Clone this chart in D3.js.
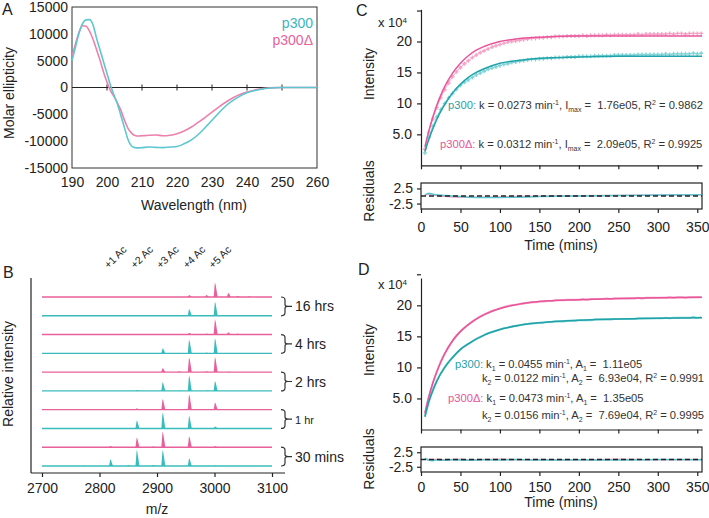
<!DOCTYPE html>
<html>
<head>
<meta charset="utf-8">
<script src="https://cdn.jsdelivr.net/npm/d3@7"></script>
<style>
body { margin: 0; background: #fff; }
svg text { font-family: "Liberation Sans", Arial, sans-serif; fill: #222; }
.axis path, .axis line { stroke: #222; stroke-width: 1.2; }
</style>
</head>
<body>
<script>
// ---- panel A : CD spectra
const cdWl = [190,191,192,193,194,195,196,197,198,199,200,201,202,203,204,205,206,207,208,209,210,212,214,216,218,220,222,224,226,228,230,232,234,236,238,240,242,244,246,248,250,255,260];
const cdP300 = [5000,7600,10100,11900,12600,12650,11700,9200,7000,4800,2600,400,-1400,-3100,-5300,-7500,-9700,-10900,-11200,-11250,-11200,-11100,-11150,-11200,-11100,-11000,-10500,-9800,-8800,-7500,-6100,-4700,-3400,-2400,-1600,-1000,-600,-320,-150,-50,0,0,0];
const cdP300d = [5800,8100,10300,11500,11400,10500,9000,7100,5100,2900,1000,-600,-1700,-2900,-4300,-6100,-7600,-8500,-8950,-9050,-9000,-8900,-8850,-9000,-8900,-8600,-8100,-7400,-6500,-5600,-4600,-3600,-2700,-1900,-1300,-850,-500,-250,-100,-30,0,0,0];
const cdYTicks = [15000,10000,5000,0,-5000,-10000,-15000];

// ---- panel B : mass spectra (relative peak heights, top trace first)
const msMz = [2773,2819,2850,2865,2893,2910,2938,2956,2986,3001,3024,3040,3060];
const msTraces = [
  [0,0,0,0,0,0,0,0.12,0.12,0.9,0.25,0.07,0.04],
  [0,0,0,0,0,0.05,0,0.42,0.03,0.88,0,0,0],
  [0,0,0,0,0,0.03,0,0.12,0.06,0.95,0.14,0.06,0.03],
  [0,0,0,0,0,0.32,0.03,0.86,0.05,0.94,0,0,0],
  [0,0,0,0,0,0.25,0.05,0.92,0.05,0.94,0.02,0,0],
  [0,0,0,0.05,0,0.55,0.03,0.96,0.03,0.62,0,0,0],
  [0,0,0,0.09,0.03,0.67,0.03,0.96,0,0.45,0,0,0],
  [0,0.03,0,0.5,0.02,1.0,0.02,0.79,0,0.12,0,0,0],
  [0,0.07,0,0.6,0.05,0.98,0,0.69,0,0.08,0,0,0],
  [0.02,0.42,0.06,1.0,0.06,1.0,0,0.48,0,0.03,0,0,0]
];
const acMz = [2819,2865,2910,2956,3001];
const acLabels = ["+1 Ac","+2 Ac","+3 Ac","+4 Ac","+5 Ac"];
const timeLabels = ["16 hrs","4 hrs","2 hrs","1 hr","30 mins"];

// ---- panels C and D : kinetics (x 10^4)
const kinTime = d3.range(5, 356, 5);
const kinP300 = [2.0,4.5,6.3,7.8,9.0,10.0,10.9,11.6,12.3,12.9,
  13.4,13.8,14.2,14.6,14.9,15.2,15.5,15.7,15.9,16.1,
  16.3,16.4,16.6,16.7,16.8,16.9,17.0,17.1,17.1,17.2,
  17.2,17.3,17.3,17.4,17.4,17.4,17.5,17.5,17.5,17.6,
  17.6,17.6,17.6,17.7,17.7,17.7,17.7,17.7,17.8,17.8,
  17.8,17.8,17.8,17.8,17.9,17.9,17.9,17.9,17.9,17.9,
  17.9,18.0,17.9,18.0,18.0,18.0,18.0,18.0,18.1,18.0,18.1];
const kinP300d = [2.6,5.3,7.5,9.3,10.9,12.2,13.3,14.3,15.1,15.8,
  16.4,16.9,17.4,17.8,18.2,18.5,18.8,19.1,19.3,19.5,
  19.7,19.9,20.0,20.1,20.2,20.3,20.4,20.5,20.5,20.6,
  20.6,20.7,20.7,20.8,20.8,20.8,20.9,20.9,20.9,20.9,
  21.0,20.9,21.0,21.0,21.0,21.0,21.1,21.0,21.1,21.1,
  21.1,21.1,21.1,21.1,21.2,21.1,21.2,21.2,21.2,21.2,
  21.2,21.2,21.3,21.2,21.3,21.3,21.2,21.3,21.3,21.3,21.3];

const fitTimeC = [5,10,15,20,25,30,40,50,60,70,80,100,120,150,200,250,300,356];
const fitC_p300 = [2.25,4.2,5.9,7.4,8.7,9.8,11.7,13.1,14.2,15.0,15.6,16.5,16.9,17.3,17.5,17.6,17.6,17.6];
const fitC_p300d = [3.0,5.6,7.8,9.7,11.3,12.7,14.9,16.5,17.7,18.6,19.2,20.0,20.4,20.7,20.9,20.9,20.9,20.9];

const fitTimeD = [5,10,15,20,30,40,50,60,80,100,125,150,200,250,300,356];
const fitD_p300 = [2.1,4.5,6.3,7.8,10.0,11.6,12.9,13.8,15.2,16.1,16.8,17.2,17.6,17.8,17.9,18.0];
const fitD_p300d = [2.6,5.3,7.5,9.3,12.2,14.3,15.8,16.9,18.5,19.5,20.2,20.6,20.9,21.1,21.2,21.3];

const resTime = [5,10,15,20,30,40,50,60,80,100,120,150,200,250,300,355];
const resC_p300 = [0.3,0.9,0.6,0.4,0.2,0.0,-0.2,-0.4,-0.5,-0.5,-0.4,-0.2,0.0,0.2,0.3,0.4];
const resC_p300d = [0.4,0.6,0.4,0.2,-0.1,-0.3,-0.4,-0.4,-0.4,-0.3,-0.2,-0.1,0.1,0.2,0.3,0.4];
const resD_p300 = [0.5,-0.3,-0.4,-0.2,-0.3,-0.1,-0.2,-0.3,-0.1,-0.2,0.0,-0.2,-0.1,-0.2,0.0,-0.1];
const resD_p300d = [0.2,0.0,-0.1,0.1,-0.2,0.0,0.1,-0.2,0.0,0.1,-0.1,0.0,-0.2,0.1,-0.1,0.0];
const timeTicks = [0,50,100,150,200,250,300,350];

const tealA = "#5cc7d0", pinkA = "#ee80ad";
const tealB = "#3bbcbc", pinkB = "#e8609a";
const tealFit = "#1fa2a8", pinkFit = "#e8559b";
const tealDot = "#7fd4d7", pinkDot = "#f4a2c5";

let svg = d3.select("body").append("svg")
  .attr("width", 709)
  .attr("height", 518);

// text with sub/superscript parts: [string, kind, colour]
function richText(g, x, y, parts, size) {
  let t = g.append("text")
    .attr("x", x).attr("y", y)
    .attr("xml:space", "preserve")
    .style("white-space", "pre")
    .style("font-size", size + "px");
  let shift = 0;
  parts.forEach(p => {
    let target = p[1] === "sub" ? 3 : p[1] === "sup" ? -4.5 : 0;
    t.append("tspan")
      .attr("dy", target - shift)
      .style("font-size", p[1] ? (size * 0.62) + "px" : null)
      .style("fill", p[2] || null)
      .text(p[0]);
    shift = target;
  });
  return t;
}

function panelLetter(x, y, s) {
  svg.append("text").attr("x", x).attr("y", y).style("font-size", "16px").text(s);
}

function yLabel(x, y, s) {
  svg.append("text")
    .attr("transform", `translate(${x},${y}) rotate(-90)`)
    .attr("text-anchor", "middle")
    .style("font-size", "14px")
    .text(s);
}

// ================= A =================
function drawA() {
  let x = d3.scaleLinear().domain([190, 260]).range([72, 317]);
  let y = d3.scaleLinear().domain([-15000, 15000]).range([168, 7]);
  let g = svg.append("g");

  g.append("rect").attr("x", 72).attr("y", 7).attr("width", 245).attr("height", 161)
    .attr("fill", "none").attr("stroke", "#333").attr("stroke-width", 1);

  g.append("g").attr("class", "axis").attr("transform", "translate(72,0)")
    .call(d3.axisLeft(y).tickValues(cdYTicks).tickSize(0).tickPadding(4).tickFormat(d => String(d)))
    .call(a => a.select(".domain").remove())
    .selectAll("text").style("font-size", "14px");

  g.append("g").attr("class", "axis").attr("transform", "translate(0,168)")
    .call(d3.axisBottom(x).ticks(7).tickSize(0).tickPadding(9).tickFormat(d3.format("d")))
    .call(a => a.select(".domain").remove())
    .selectAll("text").style("font-size", "14px");

  // zero line with ticks
  g.append("line").attr("x1", x(190)).attr("x2", x(260)).attr("y1", y(0)).attr("y2", y(0))
    .attr("stroke", "#222").attr("stroke-width", 1.1);
  g.selectAll(".zt").data([200, 210, 220, 230, 240, 250]).join("line")
    .attr("x1", d => x(d)).attr("x2", d => x(d))
    .attr("y1", y(0) - 3).attr("y2", y(0) + 3)
    .attr("stroke", "#222");

  let line = d3.line().x((d, i) => x(cdWl[i])).y(d => y(d)).curve(d3.curveMonotoneX);
  g.append("path").attr("d", line(cdP300d)).attr("fill", "none").attr("stroke", pinkA).attr("stroke-width", 1.6);
  g.append("path").attr("d", line(cdP300)).attr("fill", "none").attr("stroke", tealA).attr("stroke-width", 1.6);

  g.append("text").attr("x", 313).attr("y", 28).attr("text-anchor", "end")
    .style("font-size", "14px").style("fill", "#3bb5c0").text("p300");
  g.append("text").attr("x", 313).attr("y", 45).attr("text-anchor", "end")
    .style("font-size", "14px").style("fill", "#e8629c").text("p300Δ");

  g.append("text").attr("x", 194).attr("y", 210).attr("text-anchor", "middle")
    .style("font-size", "14px").text("Wavelength (nm)");
  yLabel(14, 93, "Molar ellipticity");
  panelLetter(2, 15, "A");
}

// ================= B =================
function drawB() {
  let x = d3.scaleLinear().domain([2700, 3100]).range([42, 272]);
  let row = d3.scalePoint().domain(d3.range(msTraces.length)).range([297, 466]);
  let h = d3.scaleLinear().domain([0, 1]).range([0, 16]);
  let g = svg.append("g");

  msTraces.forEach((tr, i) => {
    let col = i % 2 === 0 ? pinkB : tealB;
    let base = row(i);
    g.append("line").attr("x1", x(2700)).attr("x2", x(3100)).attr("y1", base).attr("y2", base)
      .attr("stroke", col).attr("stroke-width", 1.4);
    let area = d3.area().x(d => x(d[0])).y0(base).y1(d => base - h(d[1]));
    tr.forEach((v, j) => {
      if (v <= 0) return;
      let m = msMz[j];
      g.append("path").attr("d", area([[m - 2.5, 0], [m - 0.3, v], [m + 1, v * 0.85], [m + 4.5, 0]]))
        .attr("fill", col);
    });
  });

  // axes
  g.append("line").attr("x1", 31).attr("x2", 31).attr("y1", 278).attr("y2", 473)
    .attr("stroke", "#222").attr("stroke-width", 1.2);
  g.append("line").attr("x1", 31).attr("x2", 285).attr("y1", 473).attr("y2", 473)
    .attr("stroke", "#222").attr("stroke-width", 1.2);
  g.append("g").attr("class", "axis").attr("transform", "translate(0,473)")
    .call(d3.axisBottom(x).ticks(4).tickSize(4).tickPadding(6).tickFormat(d3.format("d")))
    .call(a => a.select(".domain").remove())
    .selectAll("text").style("font-size", "14px");

  g.selectAll(".ac").data(acMz).join("text")
    .attr("transform", d => `translate(${x(d) - 2},269) rotate(-45)`)
    .style("font-size", "10.5px")
    .text((d, i) => acLabels[i]);

  // brackets
  timeLabels.forEach((lab, k) => {
    let y0 = row(2 * k), y1 = row(2 * k + 1), m = (y0 + y1) / 2, bx = 281;
    g.append("path")
      .attr("d", `M${bx},${y0} Q${bx + 4},${y0} ${bx + 4},${y0 + 3} L${bx + 4},${m - 2} Q${bx + 4},${m} ${bx + 7},${m} Q${bx + 4},${m} ${bx + 4},${m + 2} L${bx + 4},${y1 - 3} Q${bx + 4},${y1} ${bx},${y1} M${bx + 7},${m} L${bx + 11},${m}`)
      .attr("fill", "none").attr("stroke", "#333").attr("stroke-width", 1.2);
    g.append("text").attr("x", bx + 14).attr("y", m + 5)
      .style("font-size", lab === "1 hr" ? "11px" : "14px").text(lab);
  });

  g.append("text").attr("x", 157).attr("y", 514).attr("text-anchor", "middle")
    .style("font-size", "14px").text("m/z");
  yLabel(13, 374, "Relative intensity");
  panelLetter(3, 278, "B");
}

// ================= C / D =================
function drawKinetics(opt) {
  let x = d3.scaleLinear().domain([0, 356]).range([421, 702]);
  let y = d3.scaleLinear().domain([0, opt.yMax]).range([opt.bottom, opt.top]);
  let r = d3.scaleLinear().domain([-4.3, 4.3]).range([opt.rBottom, opt.rTop]);
  let g = svg.append("g");

  // top plot axes
  g.append("g").attr("class", "axis").attr("transform", `translate(421,0)`)
    .call(d3.axisLeft(y).tickValues([5, 10, 15, 20, 25]).tickSize(4).tickSizeOuter(0).tickPadding(5)
      .tickFormat(d => d === 25 ? "" : d === 5 ? "5.0" : String(d)))
    .selectAll("text").style("font-size", "14px");
  g.append("g").attr("class", "axis").attr("transform", `translate(0,${opt.bottom})`)
    .call(d3.axisBottom(x).tickValues(timeTicks).tickSize(4).tickSizeOuter(0).tickFormat(""));

  richText(g, 378, opt.expY, [["x 10"], ["4", "sup"]], 13);

  let line = (tt) => d3.line().x((d, i) => x(tt[i])).y(d => y(d)).curve(d3.curveMonotoneX);

  if (opt.dots) {
    [[kinP300d, pinkDot], [kinP300, tealDot]].forEach(([vals, col]) => {
      g.append("path").attr("d", line(kinTime)(vals)).attr("fill", "none")
        .attr("stroke", col).attr("stroke-width", 1);
      g.selectAll(null).data(vals).join("path")
        .attr("transform", (d, i) => `translate(${x(kinTime[i])},${y(d)})`)
        .attr("d", d3.symbol(d3.symbolCross, 9))
        .attr("fill", col);
    });
  } else {
    [[kinP300d, pinkDot], [kinP300, tealDot]].forEach(([vals, col]) => {
      g.append("path").attr("d", line(kinTime)(vals)).attr("fill", "none")
        .attr("stroke", col).attr("stroke-width", 2);
    });
  }
  g.append("path").attr("d", line(opt.fitTime)(opt.fitPink)).attr("fill", "none")
    .attr("stroke", pinkFit).attr("stroke-width", 1.5);
  g.append("path").attr("d", line(opt.fitTime)(opt.fitTeal)).attr("fill", "none")
    .attr("stroke", tealFit).attr("stroke-width", 1.5);

  opt.notes.forEach(n => richText(g, n.x, n.y, n.parts, 11.2).style("fill", "#333"));

  // residuals
  g.append("rect").attr("x", 421).attr("y", opt.rTop).attr("width", 281).attr("height", opt.rBottom - opt.rTop)
    .attr("fill", "none").attr("stroke", "#222").attr("stroke-width", 1.2);
  g.append("g").attr("class", "axis").attr("transform", `translate(421,0)`)
    .call(d3.axisLeft(r).tickValues([2.5, -2.5]).tickSize(4).tickPadding(4).tickFormat(d => d > 0 ? "2.5" : "-2.5"))
    .call(a => a.select(".domain").remove())
    .selectAll("text").style("font-size", "14px");
  g.append("g").attr("class", "axis").attr("transform", `translate(0,${opt.rBottom})`)
    .call(d3.axisBottom(x).tickValues(timeTicks).tickSize(4).tickPadding(opt.tickPad))
    .call(a => a.select(".domain").remove())
    .selectAll("text").style("font-size", "14px");

  let rline = d3.line().x((d, i) => x(resTime[i])).y(d => r(d)).curve(d3.curveMonotoneX);
  g.append("path").attr("d", rline(opt.resPink)).attr("fill", "none").attr("stroke", pinkDot).attr("stroke-width", 1.5);
  g.append("path").attr("d", rline(opt.resTeal)).attr("fill", "none").attr("stroke", "#5cc7d0").attr("stroke-width", 1.5);
  g.append("line").attr("x1", x(0)).attr("x2", x(356)).attr("y1", r(0)).attr("y2", r(0))
    .attr("stroke", "#222").attr("stroke-width", 1.4).attr("stroke-dasharray", "5,3");

  g.append("text").attr("x", 561).attr("y", opt.titleY).attr("text-anchor", "middle")
    .style("font-size", "14px").text("Time (mins)");
  yLabel(374, opt.intY, "Intensity");
  yLabel(374, opt.resY, "Residuals");
  panelLetter(opt.letterX, opt.letterY, opt.letter);
}

drawA();
drawB();

drawKinetics({
  letter: "C", letterX: 356, letterY: 16,
  yMax: 25.2, bottom: 165.3, top: 9.3, expY: 27,
  rTop: 183, rBottom: 209, tickPad: 9, titleY: 250,
  intY: 74, resY: 191,
  dots: true,
  fitTime: fitTimeC, fitTeal: fitC_p300, fitPink: fitC_p300d,
  resTeal: resC_p300, resPink: resC_p300d,
  notes: [
    { x: 448, y: 109, parts: [["p300:", null, tealFit], [" k = 0.0273 min"], ["-1", "sup"], [", I"], ["max", "sub"], [" =  1.76e05, R"], ["2", "sup"], [" = 0.9862"]] },
    { x: 440, y: 148, parts: [["p300Δ:", null, pinkFit], [" k = 0.0312 min"], ["-1", "sup"], [", I"], ["max", "sub"], [" =  2.09e05, R"], ["2", "sup"], [" = 0.9925"]] }
  ]
});

drawKinetics({
  letter: "D", letterX: 358, letterY: 275,
  yMax: 24.4, bottom: 429.5, top: 278, expY: 289,
  rTop: 447, rBottom: 472, tickPad: 6, titleY: 507,
  intY: 350, resY: 459,
  dots: false,
  fitTime: fitTimeD, fitTeal: fitD_p300, fitPink: fitD_p300d,
  resTeal: resD_p300, resPink: resD_p300d,
  notes: [
    { x: 455, y: 368, parts: [["p300:", null, tealFit], [" k"], ["1", "sub"], [" = 0.0455 min"], ["-1", "sup"], [", A"], ["1", "sub"], [" =  1.11e05"]] },
    { x: 482, y: 382, parts: [["k"], ["2", "sub"], [" = 0.0122 min"], ["-1", "sup"], [", A"], ["2", "sub"], [" =  6.93e04, R"], ["2", "sup"], [" = 0.9991"]] },
    { x: 448, y: 402, parts: [["p300Δ:", null, pinkFit], [" k"], ["1", "sub"], [" = 0.0473 min"], ["-1", "sup"], [", A"], ["1", "sub"], [" =  1.35e05"]] },
    { x: 482, y: 419, parts: [["k"], ["2", "sub"], [" = 0.0156 min"], ["-1", "sup"], [", A"], ["2", "sub"], [" =  7.69e04, R"], ["2", "sup"], [" = 0.9995"]] }
  ]
});
</script>
</body>
</html>
